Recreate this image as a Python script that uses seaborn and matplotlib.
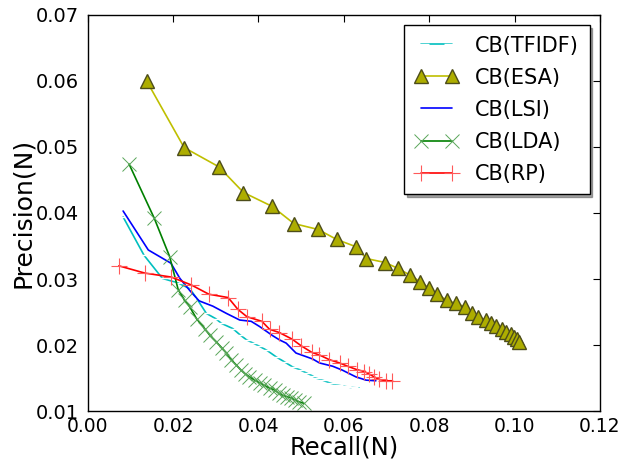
import pandas as pd
import seaborn as sns
import matplotlib
matplotlib.use("Agg")
import matplotlib.pyplot as plt

# recall / precision
tfidf_recall = [0.0083, 0.0132, 0.0175, 0.0212, 0.0240, 0.0255, 0.0278, 0.0300, 0.0313, 0.0340,
                0.0356, 0.0372, 0.0388, 0.0403, 0.0420, 0.0442, 0.0460, 0.0480, 0.0496, 0.0512,
                0.0525, 0.0535, 0.0550, 0.0566, 0.0580, 0.0597, 0.0615, 0.0636]
tfidf_prec = [0.0394, 0.0336, 0.0301, 0.0294, 0.0285, 0.0271, 0.0248, 0.0240, 0.0233, 0.0225,
              0.0216, 0.0208, 0.0203, 0.0198, 0.0192, 0.0182, 0.0175, 0.0167, 0.0163, 0.0158,
              0.0154, 0.0150, 0.0147, 0.0143, 0.0140, 0.0138, 0.0136, 0.0135]

esa_recall = [0.0138, 0.0226, 0.0307, 0.0365, 0.0432, 0.0483, 0.0540, 0.0583, 0.0628, 0.0653,
              0.0697, 0.0727, 0.0755, 0.0779, 0.0800, 0.0819, 0.0841, 0.0862, 0.0884, 0.0901,
              0.0915, 0.0932, 0.0945, 0.0956, 0.0970, 0.0979, 0.0991, 0.0998, 0.1006, 0.1010]
esa_prec = [0.0600, 0.0499, 0.0470, 0.0431, 0.0410, 0.0384, 0.0375, 0.0360, 0.0349, 0.0331,
            0.0325, 0.0316, 0.0306, 0.0296, 0.0286, 0.0277, 0.0268, 0.0263, 0.0258, 0.0249,
            0.0243, 0.0238, 0.0234, 0.0229, 0.0225, 0.0220, 0.0217, 0.0213, 0.0209, 0.0205]

lsi_recall = [0.0083, 0.0142, 0.0195, 0.0216, 0.0240, 0.0261, 0.0293, 0.0325, 0.0356, 0.0383,
              0.0403, 0.0434, 0.0449, 0.0465, 0.0488, 0.0527, 0.0543, 0.0574, 0.0597, 0.0628,
              0.0652, 0.0675]
lsi_prec = [0.0403, 0.0344, 0.0324, 0.0301, 0.0282, 0.0267, 0.0259, 0.0248, 0.0238, 0.0236,
            0.0228, 0.0214, 0.0208, 0.0203, 0.0188, 0.0179, 0.0173, 0.0168, 0.0162, 0.0152,
            0.0147, 0.0146]

lda_recall = [0.0097, 0.0156, 0.0192, 0.0212, 0.0227, 0.0239, 0.0255, 0.0274, 0.0286, 0.0301,
              0.0314, 0.0325, 0.0336, 0.0348, 0.0358, 0.0368, 0.0379, 0.0391, 0.0403, 0.0414,
              0.0426, 0.0438, 0.0448, 0.0457, 0.0467, 0.0477, 0.0486, 0.0496, 0.0506]
lda_prec = [0.0474, 0.0392, 0.0334, 0.0284, 0.0268, 0.0258, 0.0240, 0.0225, 0.0215, 0.0205,
            0.0196, 0.0188, 0.0178, 0.0170, 0.0163, 0.0157, 0.0152, 0.0147, 0.0143, 0.0139,
            0.0135, 0.0132, 0.0127, 0.0124, 0.0122, 0.0120, 0.0117, 0.0114, 0.0112]

rp_recall = [0.0073, 0.0134, 0.0196, 0.0243, 0.0284, 0.0329, 0.0352, 0.0373, 0.0408, 0.0426,
             0.0449, 0.0479, 0.0500, 0.0525, 0.0543, 0.0566, 0.0590, 0.0609, 0.0630, 0.0648,
             0.0660, 0.0671, 0.0683, 0.0699, 0.0714]
rp_prec = [0.0320, 0.0309, 0.0303, 0.0291, 0.0277, 0.0272, 0.0254, 0.0243, 0.0236, 0.0224,
           0.0219, 0.0209, 0.0199, 0.0189, 0.0185, 0.0178, 0.0173, 0.0168, 0.0163, 0.0160,
           0.0156, 0.0152, 0.0148, 0.0146, 0.0146]

x_ticks = [0.00, 0.02, 0.04, 0.06, 0.08, 0.10, 0.12]
y_ticks = [0.01, 0.02, 0.03, 0.04, 0.05, 0.06, 0.07]

sns.set_style("white", rc={"text.color": "black", "axes.labelcolor": "black",
                           "xtick.color": "black", "ytick.color": "black",
                           "axes.edgecolor": "black"})
plt.rcParams['font.family'] = ['DejaVu Sans']

fig = plt.figure(figsize=(6.24, 4.62), dpi=100)
ax = fig.add_axes([0.1405, 0.110, 0.821, 0.858])

series = [
    ("CB(TFIDF)", tfidf_recall, tfidf_prec, dict(color=(0, 0.75, 0.75), marker="_", markersize=11, markeredgewidth=1.0)),
    ("CB(ESA)", esa_recall, esa_prec, dict(color=(0.75, 0.75, 0), marker="^", markersize=9.5,
                                           markerfacecolor=(0.68, 0.68, 0), markeredgecolor=(0.3, 0.3, 0.1),
                                           markeredgewidth=1.0)),
    ("CB(LSI)", lsi_recall, lsi_prec, dict(color=(0, 0, 1))),
    ("CB(LDA)", lda_recall, lda_prec, dict(color=(0, 0.5, 0), marker="x", markersize=10, markeredgewidth=0.7,
                                           markeredgecolor=(0.35, 0.65, 0.35))),
    ("CB(RP)", rp_recall, rp_prec, dict(color=(1, 0, 0), marker="+", markersize=12, markeredgewidth=0.8,
                                        markeredgecolor=(1, 0.35, 0.35))),
]

for name, rec, prec, style in series:
    df = pd.DataFrame({"recall": rec, "precision": prec})
    sns.lineplot(data=df, x="recall", y="precision", sort=False, estimator=None,
                 label=name, linewidth=1.2, ax=ax, **style)

ax.set_xlim(0, 0.12)
ax.set_ylim(0.01, 0.07)
ax.set_xticks(x_ticks)
ax.set_yticks(y_ticks)
ax.set_xticklabels(["%.2f" % t for t in x_ticks], fontsize=13.5)
ax.set_yticklabels(["%.2f" % t for t in y_ticks], fontsize=14)
ax.tick_params(direction="in", top=True, right=True, length=5, width=0.8, pad=6, colors="black")
ax.tick_params(axis="x", pad=4)
for sp in ax.spines.values():
    sp.set_color("black")
    sp.set_linewidth(1.0)
ax.set_xlabel("Recall(N)", fontsize=17.5, labelpad=0, color="black")
ax.set_ylabel("Precision(N)", fontsize=18, labelpad=1, color="black")

leg = ax.legend(loc="upper right", fontsize=15, numpoints=2, shadow=True, fancybox=False,
                frameon=True, borderpad=0.5, handlelength=2.1, handletextpad=0.8,
                labelspacing=0.58, borderaxespad=0.5)
leg.get_frame().set_edgecolor("black")
leg.get_frame().set_linewidth(1.0)
for t in leg.get_texts():
    t.set_color("black")

fig.savefig("out.png", dpi=100)
